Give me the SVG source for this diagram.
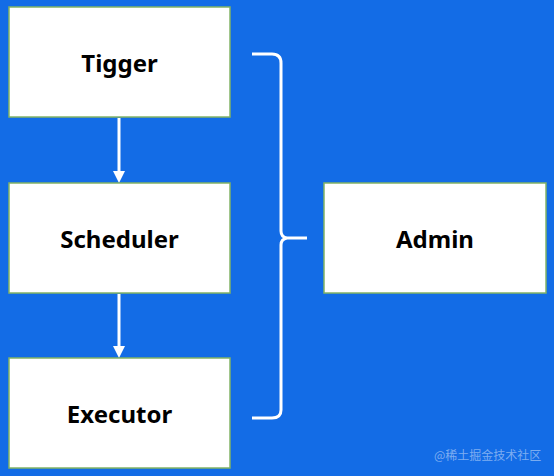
<svg xmlns="http://www.w3.org/2000/svg" width="554" height="476" viewBox="0 0 554 476">
<style>
.box{fill:#ffffff;stroke:#82b366;stroke-width:1.5}
.lbl{font-family:"Noto Sans","Open Sans",sans-serif;font-weight:bold;font-size:24px;fill:#000;text-anchor:middle;dominant-baseline:central}
.ln{stroke:#ffffff;stroke-width:3;fill:none}
.wm{font-family:"Noto Sans CJK SC",sans-serif;font-size:12px;fill:#ffffff;fill-opacity:0.45}
</style>
<rect width="554" height="476" fill="#136ce6"/>
<g id="connectors">
<path class="ln" d="M119,118 V173"/>
<path d="M113,171 L125,171 L119,183 Z" fill="#ffffff"/>
<path class="ln" d="M119,294 V348"/>
<path d="M113,346 L125,346 L119,358 Z" fill="#ffffff"/>
<path class="ln" d="M252,54 H272 Q281,54 281,63 V231 Q281,237 287,238 Q281,239 281,245 V410 Q281,418 272,418 H252 M286,238 H307"/>
</g>
<g id="tigger"><rect class="box" x="9" y="7" width="221" height="110"/><text class="lbl" x="119.5" y="62">Tigger</text></g>
<g id="scheduler"><rect class="box" x="9" y="183" width="221" height="110"/><text class="lbl" x="119.5" y="238">Scheduler</text></g>
<g id="executor"><rect class="box" x="9" y="358" width="221" height="110"/><text class="lbl" x="119.5" y="413">Executor</text></g>
<g id="admin"><rect class="box" x="324" y="183" width="222" height="110"/><text class="lbl" x="435" y="238">Admin</text></g>
<text class="wm" x="434" y="460">@稀土掘金技术社区</text>
</svg>
